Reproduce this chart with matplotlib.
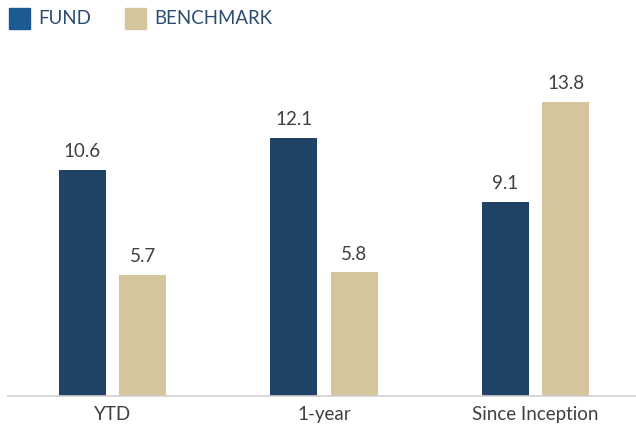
import numpy as np
import matplotlib.pyplot as plt
from matplotlib.patches import Rectangle

plt.rcParams['font.family'] = ['Lato', 'DejaVu Sans']

categories = ["YTD", "1-year", "Since Inception"]
fund = [10.6, 12.1, 9.1]
benchmark = [5.7, 5.8, 13.8]

fund_color = "#1f4366"
bench_color = "#d4c59c"
legend_fund = "#1d5a93"
text_color = "#404040"

W, H = 636, 428
fig = plt.figure(figsize=(W / 100, H / 100), dpi=100)
ax = fig.add_axes([8 / W, 32 / H, (W - 8) / W, 341 / H])

x = np.arange(len(categories))
width = 0.222
off = 0.143
b1 = ax.bar(x - off, fund, width, color=fund_color)
b2 = ax.bar(x + off, benchmark, width, color=bench_color)

for bars, vals in ((b1, fund), (b2, benchmark)):
    for bar, v in zip(bars, vals):
        ax.annotate(f"{v:.1f}", (bar.get_x() + bar.get_width() / 2, v),
                    xytext=(0, 7), textcoords="offset points",
                    ha="center", va="bottom", fontsize=13.5, color=text_color)

ax.set_xlim(-0.494, 2.475)
ax.set_ylim(0, 16)
ax.set_xticks(x)
ax.set_xticklabels(categories, fontsize=13.5, color=text_color)
ax.tick_params(axis="x", length=0, pad=7)
ax.set_yticks([])
for s in ("top", "right", "left"):
    ax.spines[s].set_visible(False)
ax.spines["bottom"].set_color("#d0d0d0")
ax.spines["bottom"].set_linewidth(1.2)

# legend drawn by hand at the top left
for px, label, col in ((9, "FUND", legend_fund), (125, "BENCHMARK", bench_color)):
    fig.patches.append(Rectangle((px / W, 1 - 29 / H), 21 / W, 21 / H,
                                 transform=fig.transFigure, color=col))
    fig.text((px + 29) / W, 1 - 18.5 / H, label, fontsize=13.4,
             color="#2b4c70", va="center", ha="left")

fig.savefig("out.png", dpi=100)
